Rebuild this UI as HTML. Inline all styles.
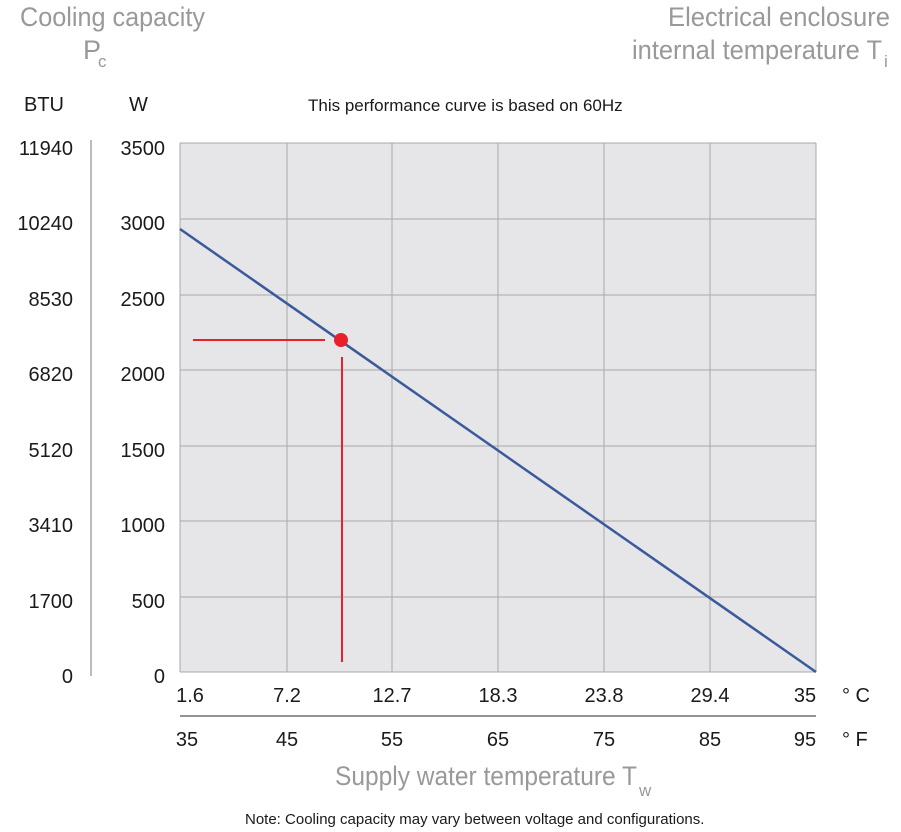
<!DOCTYPE html>
<html><head><meta charset="utf-8"><style>
body{margin:0;background:#fff;width:901px;height:832px;overflow:hidden;font-family:"Liberation Sans",sans-serif}
svg{display:block}
</style></head><body>
<svg width="901" height="832" xmlns="http://www.w3.org/2000/svg" font-family="Liberation Sans, sans-serif">
<rect x="180" y="143" width="636" height="529" fill="#e6e6e9"/>
<g stroke="#a8a8a8" stroke-width="1">
<line x1="287" y1="143" x2="287" y2="672"/><line x1="392" y1="143" x2="392" y2="672"/>
<line x1="498" y1="143" x2="498" y2="672"/><line x1="604" y1="143" x2="604" y2="672"/>
<line x1="710" y1="143" x2="710" y2="672"/><line x1="816" y1="143" x2="816" y2="672"/>
<line x1="180" y1="143" x2="180" y2="672"/>
<line x1="180" y1="143" x2="816" y2="143"/><line x1="180" y1="219" x2="816" y2="219"/>
<line x1="180" y1="295" x2="816" y2="295"/><line x1="180" y1="370" x2="816" y2="370"/>
<line x1="180" y1="446" x2="816" y2="446"/><line x1="180" y1="521" x2="816" y2="521"/>
<line x1="180" y1="597" x2="816" y2="597"/><line x1="180" y1="672" x2="816" y2="672"/>
</g>
<line x1="91" y1="140" x2="91" y2="676" stroke="#777" stroke-width="1"/>
<line x1="180" y1="716" x2="816" y2="716" stroke="#555" stroke-width="1.2"/>
<line x1="180" y1="229" x2="816" y2="672" stroke="#3a5a9c" stroke-width="2.5"/>
<line x1="193" y1="340" x2="325" y2="340" stroke="#e8202a" stroke-width="2"/>
<line x1="342" y1="357" x2="342" y2="662" stroke="#e8202a" stroke-width="2"/>
<circle cx="341" cy="340" r="7" fill="#e8202a"/>
<g fill="#999" font-size="27">
<text x="20" y="26" textLength="185" lengthAdjust="spacingAndGlyphs">Cooling capacity</text>
<text x="83" y="59">P</text><text x="98" y="67" font-size="17">c</text>
<text x="668" y="26" textLength="222" lengthAdjust="spacingAndGlyphs">Electrical enclosure</text>
<text x="632" y="59" textLength="250" lengthAdjust="spacingAndGlyphs">internal temperature T</text>
<text x="884" y="67" font-size="17">i</text>
<text x="335" y="785" textLength="302" lengthAdjust="spacingAndGlyphs">Supply water temperature T</text>
<text x="639" y="796" font-size="17">w</text>
</g>
<g fill="#1a1a1a" font-size="20">
<text x="24" y="111">BTU</text><text x="129" y="111">W</text>
<text x="308" y="111" font-size="17">This performance curve is based on 60Hz</text>
<g text-anchor="end">
<text x="73" y="155">11940</text><text x="73" y="230">10240</text><text x="73" y="306">8530</text>
<text x="73" y="381">6820</text><text x="73" y="457">5120</text><text x="73" y="532">3410</text>
<text x="73" y="608">1700</text><text x="73" y="683">0</text>
<text x="165" y="155">3500</text><text x="165" y="230">3000</text><text x="165" y="306">2500</text>
<text x="165" y="381">2000</text><text x="165" y="457">1500</text><text x="165" y="532">1000</text>
<text x="165" y="608">500</text><text x="165" y="683">0</text>
</g>
<g text-anchor="middle">
<text x="190" y="702">1.6</text><text x="287" y="702">7.2</text><text x="392" y="702">12.7</text>
<text x="498" y="702">18.3</text><text x="604" y="702">23.8</text><text x="710" y="702">29.4</text><text x="805" y="702">35</text>
<text x="187" y="746">35</text><text x="287" y="746">45</text><text x="392" y="746">55</text>
<text x="498" y="746">65</text><text x="604" y="746">75</text><text x="710" y="746">85</text><text x="805" y="746">95</text>
</g>
<text x="842" y="702">° C</text><text x="842" y="746">° F</text>
<text x="245" y="824" font-size="15">Note: Cooling capacity may vary between voltage and configurations.</text>
</g>
</svg>
</body></html>
